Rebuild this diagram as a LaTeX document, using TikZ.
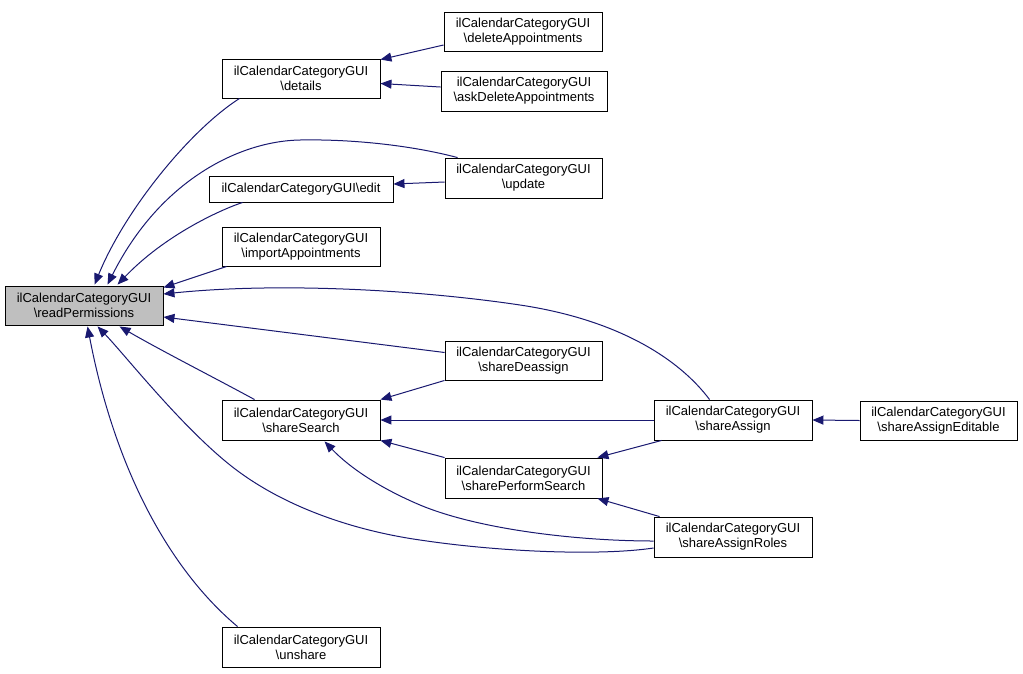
\documentclass[tikz,border=0pt]{standalone}
\usepackage{fontspec}
\setmainfont{Liberation Sans}
\usetikzlibrary{arrows.meta,calc}
\definecolor{edgecol}{HTML}{191970}
\definecolor{hl}{HTML}{BFBFBF}
\begin{document}
\begin{tikzpicture}[x=1pt,y=-1pt,
  box/.style={draw=black, line width=0.9pt, fill=white, align=center, inner sep=0pt,
    minimum width=158pt, minimum height=39pt, font=\fontsize{13}{15}\selectfont},
  rel/.style={draw=edgecol, line width=1pt, -{Triangle[length=11pt,width=9pt]}}]
\useasboundingbox (0,0) rectangle (1023,673);
% nodes
\node[box, fill=hl] (rp) at (84,305.5) {ilCalendarCategoryGUI\\\textbackslash readPermissions};
\node[box] (details) at (301,78.5) {ilCalendarCategoryGUI\\\textbackslash details};
\node[box] (delA) at (523,31.5) {ilCalendarCategoryGUI\\\textbackslash deleteAppointments};
\node[box, minimum width=166pt, minimum height=40pt] (askDel) at (524,91) {ilCalendarCategoryGUI\\\textbackslash askDeleteAppointments};
\node[box, minimum width=184pt, minimum height=26pt] (edit) at (301,189) {ilCalendarCategoryGUI\textbackslash edit};
\node[box, minimum width=157pt, minimum height=40pt] (update) at (523.5,178) {ilCalendarCategoryGUI\\\textbackslash update};
\node[box] (import) at (301,246.5) {ilCalendarCategoryGUI\\\textbackslash importAppointments};
\node[box, minimum width=157pt] (deassign) at (523.5,360.5) {ilCalendarCategoryGUI\\\textbackslash shareDeassign};
\node[box, minimum height=40pt] (search) at (301,420) {ilCalendarCategoryGUI\\\textbackslash shareSearch};
\node[box, minimum height=40pt] (assign) at (733,420) {ilCalendarCategoryGUI\\\textbackslash shareAssign};
\node[box, minimum width=157pt] (editable) at (938.5,420.5) {ilCalendarCategoryGUI\\\textbackslash shareAssignEditable};
\node[box, minimum width=157pt, minimum height=40pt] (perform) at (523.5,478) {ilCalendarCategoryGUI\\\textbackslash sharePerformSearch};
\node[box, minimum height=40pt] (roles) at (733,537) {ilCalendarCategoryGUI\\\textbackslash shareAssignRoles};
\node[box, minimum height=40pt] (unshare) at (301,647) {ilCalendarCategoryGUI\\\textbackslash unshare};
% edges into readPermissions
\draw[rel] ($(details.south west)+(18,0)$) .. controls (190,130) and (125,210) .. ($(rp.north west)+(90,-1)$);
\draw[rel] ($(update.north west)+(13,0)$) .. controls (410,145) and (350,139) .. (300,140) .. controls (240,141) and (160,180) .. ($(rp.north west)+(103,-1)$);
\draw[rel] ($(edit.south west)+(34,0)$) .. controls (220,210) and (165,235) .. ($(rp.north west)+(113,-1)$);
\draw[rel] ($(import.south west)+(5,0)$) -- ($(rp.north east)+(0,2)$);
\draw[rel] ($(assign.north west)+(56,0)$) .. controls (680,360) and (620,320) .. (520,305) .. controls (420,290) and (280,282) .. ($(rp.east)+(0,-11.5)$);
\draw[rel] ($(deassign.west)+(0,-8)$) -- ($(rp.east)+(0,11.5)$);
\draw[rel] ($(search.north west)+(33,0)$) .. controls (215,378) and (160,350) .. ($(rp.south west)+(115,1)$);
\draw[rel] ($(roles.west)+(0,11)$) .. controls (600,556) and (500,552) .. (420,540) .. controls (350,530) and (280,505) .. (230,465) .. controls (180,425) and (125,355) .. ($(rp.south west)+(93,1)$);
\draw[rel] ($(unshare.north west)+(16,0)$) .. controls (170,570) and (115,470) .. ($(rp.south west)+(83,1)$);
% other edges
\draw[rel] ($(delA.west)+(0,13.5)$) -- ($(details.north east)+(0,1)$);
\draw[rel] ($(askDel.west)+(0,-4)$) -- ($(details.east)+(0,5)$);
\draw[rel] ($(update.west)+(0,4)$) -- ($(edit.east)+(0,-5)$);
\draw[rel] (deassign.south west) -- (search.north east);
\draw[rel] (assign.west) -- (search.east);
\draw[rel] (perform.north west) -- (search.south east);
\draw[rel] ($(roles.west)+(0,4)$) .. controls (580,541) and (480,530) .. (420,505) .. controls (380,488) and (350,468) .. ($(search.south west)+(103,1)$);
\draw[rel] ($(assign.south west)+(8,0)$) -- ($(perform.north east)+(-5,0)$);
\draw[rel] ($(roles.north west)+(6,0)$) -- ($(perform.south east)+(-5,0)$);
\draw[rel] (editable.west) -- (assign.east);
\end{tikzpicture}
\end{document}
